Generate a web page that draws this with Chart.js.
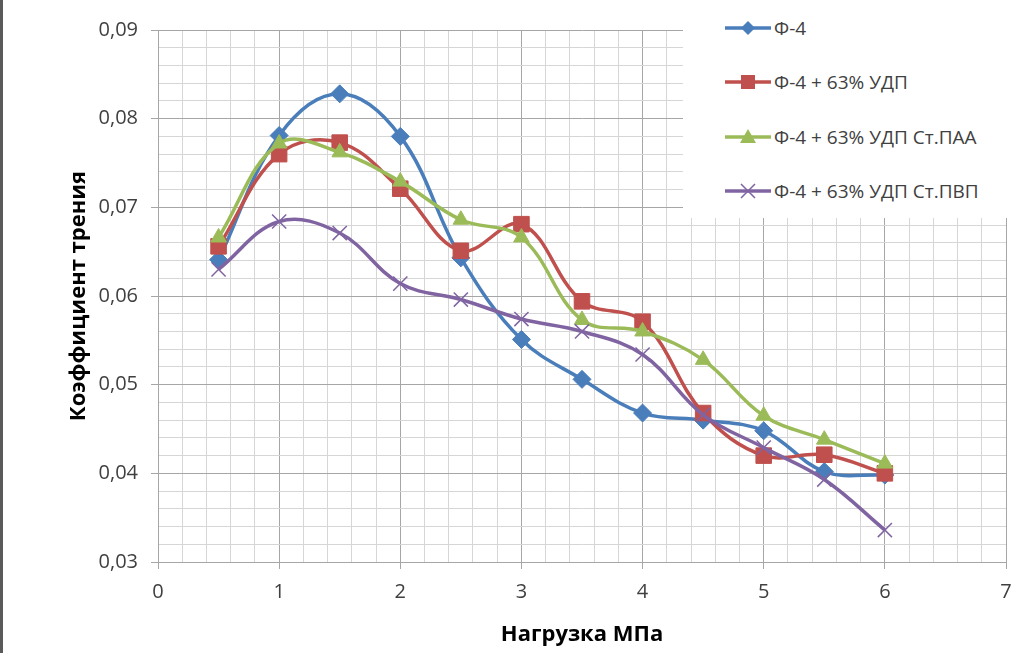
<!DOCTYPE html>
<html lang="ru">
<head>
<meta charset="utf-8">
<title>Коэффициент трения</title>
<script src="https://cdn.jsdelivr.net/npm/chart.js@4/dist/chart.umd.min.js"></script>
<style>
    html, body { margin: 0; padding: 0; background: #fff; }
    #wrap { position: relative; width: 1024px; height: 653px; overflow: hidden; }
    #wrap::before { content: ''; position: absolute; left: 0; top: 0; bottom: 0; width: 3px; background: #5a5a5a; z-index: 3; }
    #legend {
        position: absolute; left: 683px; top: 0; width: 341px; height: 218px;
        background: #fff; z-index: 2;
        font-family: "Open Sans", sans-serif; font-size: 19px; color: #404040;
    }
    .legend-row { position: absolute; left: 42px; height: 24px; display: flex; align-items: center; white-space: nowrap; }
    .legend-row svg { margin-right: 3px; }
</style>
</head>
<body>
<div id="wrap">
    <canvas id="frictionChart"></canvas>
    <div id="legend"></div>
</div>
<script>
// Load values
const loads = [0.5, 1, 1.5, 2, 2.5, 3, 3.5, 4, 4.5, 5, 5.5, 6];
const f4 = [0.0641, 0.0781, 0.0828, 0.0780, 0.0643, 0.0551, 0.0506, 0.0468, 0.0460, 0.0448, 0.0402, 0.0398];
const f4Udp = [0.0656, 0.0760, 0.0773, 0.0721, 0.0651, 0.0681, 0.0594, 0.0571, 0.0468, 0.0420, 0.0421, 0.0400];
const f4UdpPaa = [0.0666, 0.0772, 0.0762, 0.0729, 0.0686, 0.0666, 0.0573, 0.0560, 0.0528, 0.0465, 0.0438, 0.0411];
const f4UdpPvp = [0.0630, 0.0684, 0.0671, 0.0614, 0.0596, 0.0574, 0.0560, 0.0534, 0.0466, 0.0429, 0.0393, 0.0336];

const seriesLabels = ['Ф-4', 'Ф-4 + 63% УДП', 'Ф-4 + 63% УДП Ст.ПАА', 'Ф-4 + 63% УДП Ст.ПВП'];
const seriesValues = [f4, f4Udp, f4UdpPaa, f4UdpPvp];
const seriesColors = ['#4a7ebb', '#c0504d', '#9bbb59', '#8064a2'];
const seriesMarkers = ['rectRot', 'rect', 'triangle', 'crossRot'];
const markerSizes = [9, 11, 9, 10];

const X_MIN = 0, X_MAX = 7, X_STEP = 0.2;
const Y_MIN = 0.03, Y_MAX = 0.09, Y_STEP = 0.002;

const FONT = '"Open Sans", sans-serif';

document.addEventListener('DOMContentLoaded', () => {
    buildChart();
    buildLegend();
});

// Major gridlines fall on whole units (x) and on each 0.01 (y)
function isMajor(value, unit) {
    const q = value / unit;
    return Math.abs(q - Math.round(q)) < 1e-6;
}

function buildChart() {
    const datasets = seriesLabels.map((label, i) => ({
        label: label,
        data: loads.map((x, j) => ({ x: x, y: seriesValues[i][j] })),
        borderColor: seriesColors[i],
        backgroundColor: seriesColors[i],
        borderWidth: 3.5,
        tension: 0.38,
        pointStyle: seriesMarkers[i],
        pointRadius: markerSizes[i],
        pointBorderWidth: seriesMarkers[i] === 'crossRot' ? 1.5 : 1,
        pointBorderColor: seriesColors[i],
        pointBackgroundColor: seriesColors[i],
        order: seriesLabels.length - i
    }));

    const ctx = document.getElementById('frictionChart').getContext('2d');
    new Chart(ctx, {
        type: 'line',
        data: { datasets: datasets },
        options: {
            responsive: true,
            maintainAspectRatio: false,
            animation: false,
            layout: { padding: { top: 30, right: 18, left: 0, bottom: 0 } },
            plugins: { legend: { display: false }, tooltip: { enabled: false } },
            scales: {
                x: {
                    type: 'linear',
                    min: X_MIN,
                    max: X_MAX,
                    afterFit: scale => { scale.height = 91; },
                    ticks: {
                        stepSize: X_STEP,
                        maxTicksLimit: 100,
                        autoSkip: false,
                        maxRotation: 0,
                        padding: 11,
                        color: '#404040',
                        font: { family: FONT, size: 20 },
                        callback: v => isMajor(v, 1) ? String(Math.round(v)) : ''
                    },
                    grid: {
                        color: c => isMajor(c.tick.value, 1) ? '#a6a6a6' : '#d6d6d6',
                        tickColor: c => isMajor(c.tick.value, 1) ? '#a6a6a6' : 'rgba(0,0,0,0)',
                        tickLength: 7
                    },
                    border: { color: '#a6a6a6' },
                    title: {
                        display: true,
                        text: 'Нагрузка МПа',
                        color: '#000',
                        font: { family: FONT, size: 22, weight: 'bold' },
                        padding: { top: 0, bottom: 5 }
                    }
                },
                y: {
                    type: 'linear',
                    min: Y_MIN,
                    max: Y_MAX,
                    afterFit: scale => { scale.width = 158; },
                    ticks: {
                        stepSize: Y_STEP,
                        maxTicksLimit: 100,
                        autoSkip: false,
                        padding: 13,
                        color: '#404040',
                        font: { family: FONT, size: 20 },
                        callback: v => isMajor(v, 0.01) ? v.toFixed(2).replace('.', ',') : ''
                    },
                    grid: {
                        color: c => isMajor(c.tick.value, 0.01) ? '#a6a6a6' : '#d6d6d6',
                        tickColor: c => isMajor(c.tick.value, 0.01) ? '#a6a6a6' : 'rgba(0,0,0,0)',
                        tickLength: 7
                    },
                    border: { color: '#a6a6a6' },
                    title: {
                        display: true,
                        text: 'Коэффициент трения',
                        color: '#000',
                        font: { family: FONT, size: 22, weight: 'bold' },
                        padding: { top: 66, bottom: 0 }
                    }
                }
            }
        }
    });
}

// Small inline marker sample, same shape as the chart's point style
function markerSvg(style, color) {
    const cx = 23, cy = 12;
    let shape = '';
    if (style === 'rectRot') {
        shape = `<polygon points="${cx},${cy - 7} ${cx + 7},${cy} ${cx},${cy + 7} ${cx - 7},${cy}" fill="${color}"/>`;
    } else if (style === 'rect') {
        shape = `<rect x="${cx - 7}" y="${cy - 7}" width="14" height="14" fill="${color}"/>`;
    } else if (style === 'triangle') {
        shape = `<polygon points="${cx},${cy - 8} ${cx + 8},${cy + 6} ${cx - 8},${cy + 6}" fill="${color}"/>`;
    } else {
        shape = `<path d="M${cx - 7} ${cy - 7} L${cx + 7} ${cy + 7} M${cx + 7} ${cy - 7} L${cx - 7} ${cy + 7}" stroke="${color}" stroke-width="1.5"/>`;
    }
    return `<svg width="46" height="24" viewBox="0 0 46 24">
        <line x1="0" y1="${cy}" x2="46" y2="${cy}" stroke="${color}" stroke-width="3.5" stroke-linecap="round"/>
        ${shape}
    </svg>`;
}

function buildLegend() {
    const legend = document.getElementById('legend');
    const rowCenters = [28, 82, 137, 191];
    seriesLabels.forEach((label, i) => {
        const row = document.createElement('div');
        row.className = 'legend-row';
        row.style.top = (rowCenters[i] - 12) + 'px';
        row.innerHTML = markerSvg(seriesMarkers[i], seriesColors[i]) + `<span>${label}</span>`;
        legend.appendChild(row);
    });
}
</script>
</body>
</html>
